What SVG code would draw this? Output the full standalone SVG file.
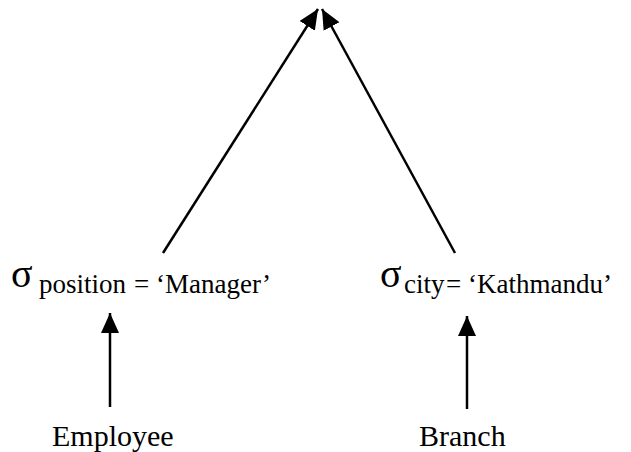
<svg xmlns="http://www.w3.org/2000/svg" width="631" height="452" viewBox="0 0 631 452">
<style>
  .sig { font-size: 40px; }
  .sub { font-size: 27px; }
  .lbl { font-size: 27px; }
  .node { font-size: 30px; }
  .edge { stroke: #000; stroke-width: 2.5; fill: none; marker-end: url(#ah); }
</style>
<defs>
  <marker id="ah" markerUnits="userSpaceOnUse" markerWidth="22" markerHeight="20" refX="20" refY="9" orient="auto" viewBox="0 0 22 20">
    <path d="M0,0 L20,9 L0,18 z" fill="#000"/>
  </marker>
</defs>
<rect width="631" height="452" fill="#fff"/>
<g id="connectors">
  <line class="edge" x1="163" y1="253" x2="318" y2="9"/>
  <line class="edge" x1="455" y1="253" x2="322" y2="9"/>
  <line class="edge" x1="110" y1="407" x2="110" y2="313"/>
  <line class="edge" x1="467" y1="409" x2="467" y2="316"/>
</g>
<g id="select-position" font-family="'Liberation Serif', serif" fill="#000">
  <text class="sig" x="11" y="287">σ</text>
  <text class="sub" x="39" y="293">position</text>
  <text class="lbl" x="134" y="293">= ‘Manager’</text>
</g>
<g id="select-city" font-family="'Liberation Serif', serif" fill="#000">
  <text class="sig" x="380" y="287">σ</text>
  <text class="sub" x="404" y="293">city</text>
  <text class="lbl" x="446" y="293">= ‘Kathmandu’</text>
</g>
<g id="employee" font-family="'Liberation Serif', serif" fill="#000">
  <text class="node" x="52" y="446">Employee</text>
</g>
<g id="branch" font-family="'Liberation Serif', serif" fill="#000">
  <text class="node" x="419" y="446">Branch</text>
</g>
</svg>
